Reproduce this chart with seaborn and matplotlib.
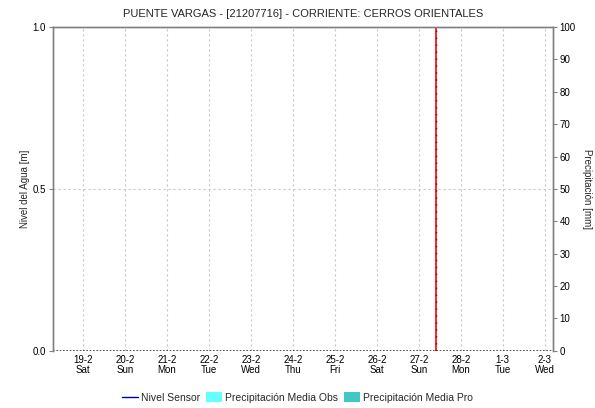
import matplotlib
matplotlib.use("Agg")
import matplotlib.pyplot as plt
import seaborn as sns
import pandas as pd
from matplotlib.lines import Line2D
from matplotlib.patches import Patch

# fechas (dias desde 19-2) y etiquetas
tick_days = [0, 1, 2, 3, 4, 5, 6, 7, 8, 9, 10, 11]
tick_dates = ["19-2", "20-2", "21-2", "22-2", "23-2", "24-2", "25-2", "26-2", "27-2", "28-2", "1-3", "2-3"]
tick_wday = ["Sat", "Sun", "Mon", "Tue", "Wed", "Thu", "Fri", "Sat", "Sun", "Mon", "Tue", "Wed"]
x_start, x_end = -0.714, 11.19
now_day = 8.40  # linea roja (hora actual)

# serie de nivel (sin datos, en cero)
nivel_days = [x_start, x_end]
nivel_vals = [0.0, 0.0]

sns.set_style("white")
plt.rcParams['font.family'] = ['Liberation Sans', 'DejaVu Sans']

fig = plt.figure(figsize=(5.95, 4.08), dpi=100)
ax = fig.add_axes([0.089, 0.140, 0.840, 0.794])
ax2 = ax.twinx()

df_nivel = pd.DataFrame({"dia": nivel_days, "nivel": nivel_vals})
sns.lineplot(data=df_nivel, x="dia", y="nivel", ax=ax, color="#333333", linestyle=(0, (1, 1)), linewidth=1.2)

ax.set_xlim(x_start, x_end)
ax.set_ylim(0, 1)
ax2.set_ylim(0, 100)

fs = 7
ax.set_xticks(tick_days)
ax.set_xticklabels([f"{d}\n{w}" for d, w in zip(tick_dates, tick_wday)], fontsize=fs, linespacing=1.05)
ax.set_yticks([0, 0.5, 1.0])
ax.set_yticklabels(["0.0", "0.5", "1.0"], fontsize=fs)
ax2.set_yticks(range(0, 101, 10))
ax2.set_yticklabels([str(v) for v in range(0, 101, 10)], fontsize=fs)

for d in tick_days:
    ax.axvline(d, color="#c8c8c8", linestyle=(0, (2, 2.5)), linewidth=0.8, zorder=0)
ax.axhline(0.5, color="#c8c8c8", linestyle=(0, (2, 2.5)), linewidth=0.8, zorder=0)

ax.axvline(now_day, color="red", linewidth=1.2, zorder=3)
ax.axvline(now_day, color="#880000", linestyle=(0, (1, 4)), linewidth=1.0, zorder=4)

for a in (ax, ax2):
    for s in a.spines.values():
        s.set_color("#808080")
        s.set_linewidth(1.0)
    a.tick_params(length=3, width=0.8, color="#808080", pad=2, labelcolor="black")
ax.spines['bottom'].set_visible(False)
ax2.spines['bottom'].set_visible(False)
ax.tick_params(axis="x", length=0, pad=3)

ax.set_xlabel("")
ax.set_ylabel("Nivel del Agua [m]", fontsize=fs, labelpad=2)
ax2.set_ylabel("Precipitación [mm]", fontsize=fs, rotation=270, labelpad=12)
ax.set_title("PUENTE VARGAS - [21207716] - CORRIENTE: CERROS ORIENTALES", fontsize=8, pad=7)

handles = [
    Line2D([0], [0], color="#0000aa", linewidth=1.0),
    Patch(facecolor="#66ffff", edgecolor="none"),
    Patch(facecolor="#40c8c8", edgecolor="none"),
]
labels = ["Nivel Sensor", "Precipitación Media Obs", "Precipitación Media Pro"]
fig.legend(handles, labels, loc="lower center", bbox_to_anchor=(0.5, -0.01), ncol=3, frameon=False,
           fontsize=7.5, handlelength=1.5, handleheight=1.0, handletextpad=0.3, columnspacing=0.6)

fig.savefig("out.png", dpi=100)
